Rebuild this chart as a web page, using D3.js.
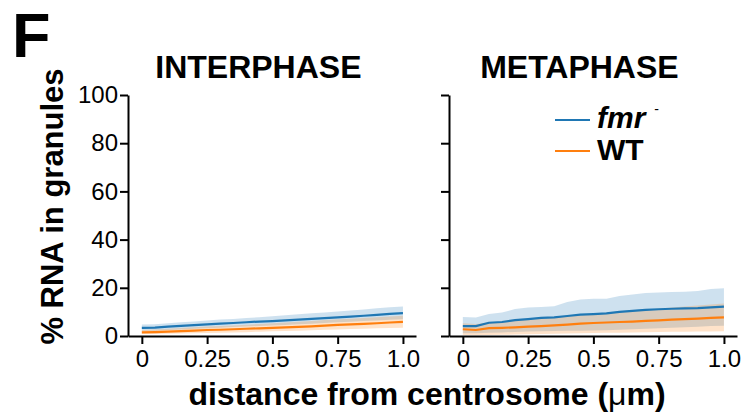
<!DOCTYPE html>
<html>
<head>
<meta charset="utf-8">
<script src="https://cdn.jsdelivr.net/npm/d3@7"></script>
<style>
  body { margin: 0; background: #fff; }
  text { font-family: "Liberation Sans", Arial, sans-serif; }
</style>
</head>
<body>
<div id="chart"></div>
<script>
// distances from centrosome (um)
const distance = [0, 0.05, 0.1, 0.15, 0.2, 0.25, 0.3, 0.35, 0.4, 0.45, 0.5,
                  0.55, 0.6, 0.65, 0.7, 0.75, 0.8, 0.85, 0.9, 0.95, 1.0];

// interphase
const interFmr      = [3.4,3.5,3.9,4.2,4.5,4.8,5.1,5.4,5.7,6.0,6.2,6.5,6.8,7.1,7.4,7.7,8.0,8.4,8.8,9.2,9.5];
const interFmrHi    = [4.8,4.9,5.3,5.7,6.0,6.4,6.8,7.1,7.5,7.8,8.2,8.6,9.0,9.4,9.8,10.2,10.6,11.0,11.5,11.9,12.2];
const interFmrLo    = [2.2,2.2,2.5,2.7,3.0,3.2,3.4,3.7,3.9,4.2,4.4,4.6,4.9,5.1,5.4,5.7,5.9,6.2,6.4,6.7,6.9];
const interWT       = [1.5,1.6,1.8,2.0,2.2,2.5,2.6,2.8,3.0,3.2,3.4,3.6,3.8,4.0,4.3,4.6,4.8,5.0,5.3,5.6,5.9];
const interWTHi     = [2.5,2.7,3.0,3.3,3.6,3.9,4.1,4.4,4.7,5.0,5.3,5.6,5.9,6.2,6.6,6.9,7.2,7.5,7.8,8.1,8.4];
const interWTLo     = [0.8,0.8,0.9,1.0,1.1,1.2,1.3,1.5,1.6,1.8,2.0,2.1,2.2,2.4,2.6,2.7,2.9,3.0,3.2,3.3,3.4];

// metaphase
const metaFmr       = [4.1,4.1,5.5,5.8,6.6,7.0,7.5,7.7,8.3,8.9,9.1,9.4,10.0,10.4,10.8,11.1,11.3,11.5,11.6,11.9,12.2];
const metaFmrHi     = [7.9,7.7,9.1,9.7,11.2,11.8,12.0,12.3,14.1,15.1,15.5,15.5,16.6,17.2,17.8,18.1,18.3,18.4,18.7,19.5,19.8];
const metaFmrLo     = [1.1,1.1,1.4,1.5,1.7,1.9,2.0,2.1,2.2,2.2,2.3,2.4,2.6,2.8,3.0,3.2,3.4,3.6,3.8,4.1,4.3];
const metaWT        = [2.8,2.5,3.3,3.4,3.6,3.9,4.1,4.4,4.7,5.1,5.4,5.6,5.8,6.0,6.3,6.5,6.8,7.0,7.2,7.5,7.7];
const metaWTHi      = [5.3,5.0,5.6,5.9,6.3,6.8,7.2,7.6,8.1,8.6,9.2,9.6,10.0,10.4,10.9,11.3,11.8,12.2,12.7,13.1,13.5];
const metaWTLo      = [0.4,0.3,0.4,0.5,0.6,0.7,0.8,0.9,1.0,1.1,1.2,1.3,1.4,1.5,1.6,1.7,1.8,1.8,1.9,1.9,2.0];

const yTicks = [0, 20, 40, 60, 80, 100];
const xTicks = [0, 0.25, 0.5, 0.75, 1.0];
const xTickLabels = ["0", "0.25", "0.5", "0.75", "1.0"];

const blue = "#1f77b4", orange = "#ff7f0e";

const width = 747, height = 415;
const svg = d3.select("#chart").append("svg")
    .attr("width", width)
    .attr("height", height);

const y = d3.scaleLinear().domain([0, 100]).range([336, 95]);

const panels = [
    {title: "INTERPHASE", range: [128, 416], labels: true,
     fmr: interFmr, fmrHi: interFmrHi, fmrLo: interFmrLo,
     wt: interWT, wtHi: interWTHi, wtLo: interWTLo},
    {title: "METAPHASE", range: [449, 737], labels: false,
     fmr: metaFmr, fmrHi: metaFmrHi, fmrLo: metaFmrLo,
     wt: metaWT, wtHi: metaWTHi, wtLo: metaWTLo}
];

panels.forEach(p => {
    const x = d3.scaleLinear().domain([-0.053, 1.05]).range(p.range);
    const g = svg.append("g");

    const area = (lo, hi) => d3.area()
        .x((d, i) => x(distance[i]))
        .y0((d, i) => y(lo[i]))
        .y1((d, i) => y(hi[i]))(distance);
    const line = vals => d3.line()
        .x((d, i) => x(distance[i]))
        .y((d, i) => y(vals[i]))(distance);

    // shaded bands
    g.append("path").attr("d", area(p.fmrLo, p.fmrHi))
        .attr("fill", blue).attr("fill-opacity", 0.22);
    g.append("path").attr("d", area(p.wtLo, p.wtHi))
        .attr("fill", orange).attr("fill-opacity", 0.22);
    // mean lines
    g.append("path").attr("d", line(p.fmr))
        .attr("fill", "none").attr("stroke", blue).attr("stroke-width", 2.2);
    g.append("path").attr("d", line(p.wt))
        .attr("fill", "none").attr("stroke", orange).attr("stroke-width", 2.2);

    // axes
    const xAxis = d3.axisBottom(x).tickValues(xTicks)
        .tickFormat((d, i) => xTickLabels[i])
        .tickSize(8).tickSizeOuter(0).tickPadding(6);
    const xg = g.append("g").attr("transform", `translate(0, ${y(0)})`).call(xAxis);

    const yAxis = d3.axisLeft(y).tickValues(yTicks)
        .tickFormat(p.labels ? d3.format("d") : "")
        .tickSize(8).tickSizeOuter(0).tickPadding(2);
    const yg = g.append("g").attr("transform", `translate(${p.range[0]}, 0)`).call(yAxis);

    [xg, yg].forEach(a => {
        a.select(".domain").attr("stroke", "#000").attr("stroke-width", 2);
        a.selectAll(".tick line").attr("stroke", "#000").attr("stroke-width", 2);
        a.selectAll(".tick text").attr("fill", "#000")
            .style("font-size", "24px")
            .style("font-family", "'Liberation Sans', Arial, sans-serif");
    });

    // panel title
    svg.append("text")
        .attr("x", (x(0) + x(1)) / 2 - 14)
        .attr("y", 78)
        .attr("text-anchor", "middle")
        .style("font-size", "32px")
        .style("font-weight", "bold")
        .text(p.title);
});

// panel letter
svg.append("text")
    .attr("x", 12).attr("y", 57)
    .style("font-size", "63px").style("font-weight", "bold")
    .text("F");

// y axis label
svg.append("text")
    .attr("transform", `translate(63, ${(95 + 336) / 2 - 9}) rotate(-90)`)
    .attr("text-anchor", "middle")
    .style("font-size", "31px").style("font-weight", "bold")
    .text("% RNA in granules");

// x axis label
const xl = svg.append("text")
    .attr("x", 427).attr("y", 405)
    .attr("text-anchor", "middle")
    .style("font-size", "32px").style("font-weight", "bold");
xl.append("tspan").text("distance from centrosome (");
xl.append("tspan").style("font-weight", "normal").text("\u03bc");
xl.append("tspan").text("m)");

// legend
const legend = svg.append("g");
const legendItems = [
    {color: blue, y: 120, baseline: 128},
    {color: orange, y: 151, baseline: 160}
];
legend.selectAll("line").data(legendItems).enter().append("line")
    .attr("x1", 555).attr("x2", 590)
    .attr("y1", d => d.y).attr("y2", d => d.y)
    .attr("stroke", d => d.color).attr("stroke-width", 2.2);

const fmrText = legend.append("text")
    .attr("x", 597).attr("y", legendItems[0].baseline)
    .style("font-size", "30px").style("font-weight", "bold");
fmrText.append("tspan").style("font-style", "italic").text("fmr");
fmrText.append("tspan").attr("dx", 9).attr("dy", -14)
    .style("font-size", "14px").style("font-weight", "normal").text("-");

legend.append("text")
    .attr("x", 597).attr("y", legendItems[1].baseline)
    .style("font-size", "30px").style("font-weight", "bold")
    .text("WT");
</script>
</body>
</html>
